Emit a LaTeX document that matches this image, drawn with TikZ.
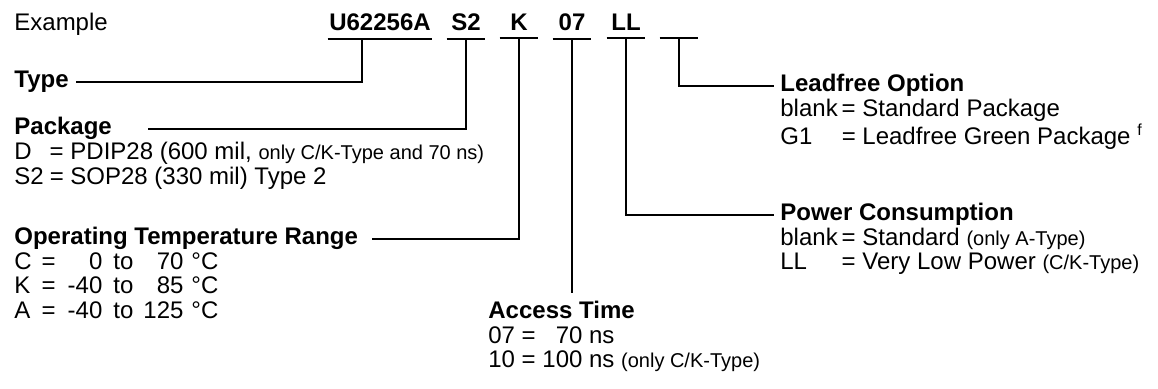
\documentclass[tikz,border=0pt]{standalone}
\usepackage{fontspec}
\setmainfont{Liberation Sans}
\usetikzlibrary{positioning}
\tikzstyle{code} = [font=\fontsize{12}{12.25}\selectfont\bfseries, inner xsep=0pt, inner ysep=3.75pt, minimum width=19pt, anchor=base]
\tikzstyle{head} = [font=\fontsize{12}{12.25}\selectfont\bfseries, inner sep=0pt, anchor=base west]
\tikzstyle{body} = [font=\fontsize{12}{12.25}\selectfont, inner sep=0pt, anchor=base west]
\tikzstyle{line} = [draw, line width=1pt]
\newcommand{\sm}[1]{{\fontsize{10}{10}\selectfont #1}}

\begin{document}
\begin{tikzpicture}[x=0.5pt, y=-0.5pt]
			\useasboundingbox (0,0) rectangle (1158,388);

			\node [body] (ex) at (14,30.5) {Example};
			\node [code, minimum width=52pt] (pn) at (380,30.5) {U62256A};
			\node [code] (s2) at (466,30.5) {S2};
			\node [code] (k) at (519,30.5) {K};
			\node [code] (t07) at (572,30.5) {07};
			\node [code] (ll) at (626,30.5) {LL};
			\node [code] (lf) at (679,30.5) {};

			\node [head] (type) at (14,87) {Type};

			\node [head] (pkg) at (14,134) {Package};
			\node [body] (pkgtab) at (14,159.5) {\begin{tabular}[t]{@{}l@{\hspace{3pt}}l@{}}
				D & = PDIP28 (600 mil, \sm{only C/K-Type and 70 ns)}\\
				S2 & = SOP28 (330 mil) Type 2
			\end{tabular}};

			\node [head] (op) at (14,244) {Operating Temperature Range};
			\node [body] (optab) at (14,269) {\begin{tabular}[t]{@{}l@{\hspace{5pt}=\hspace{6pt}}r@{\hspace{5.5pt}to\hspace{5pt}}r@{\hspace{4pt}}l@{}}
				C & 0 & 70 & °C\\
				K & -40 & 85 & °C\\
				A & -40 & 125 & °C
			\end{tabular}};

			\node [head] (acc) at (488,318.5) {Access Time};
			\node [body] (acctab) at (488,343) {\begin{tabular}[t]{@{}l@{\ =\ }r@{\ }l@{}}
				07 & 70 & ns\\
				10 & 100 & ns \sm{(only C/K-Type)}
			\end{tabular}};

			\node [head] (lead) at (780,91) {Leadfree Option};
			\node [body] (leadtab) at (780,116.5) {\begin{tabular}[t]{@{}l@{\hspace{2pt}}l@{}}
				blank & = Standard Package\\
				G1 & = Leadfree Green Package \textsuperscript{f}
			\end{tabular}};

			\node [head] (pow) at (780,220) {Power Consumption};
			\node [body] (powtab) at (780,245) {\begin{tabular}[t]{@{}l@{\hspace{2pt}}l@{}}
				blank & = Standard \sm{(only A-Type)}\\
				LL & = Very Low Power \sm{(C/K-Type)}
			\end{tabular}};

			\path [line] (pn.south west) -- (pn.south east);
			\path [line] (s2.south west) -- (s2.south east);
			\path [line] (k.south west) -- (k.south east);
			\path [line] (t07.south west) -- (t07.south east);
			\path [line] (ll.south west) -- (ll.south east);
			\path [line] (lf.south west) -- (lf.south east);
			\path [line] ([xshift=-9pt]pn.south) |- ([xshift=3.5pt]type.mid east);
			\path [line] (s2.south) |- ([xshift=17.8pt]pkg.mid east);
			\path [line] (k.south) |- ([xshift=6.8pt]op.mid east);
			\path [line] (t07.south) -- ([yshift=4pt]t07.south |- acc.north);
			\path [line] (ll.south) |- ([xshift=-3pt]pow.mid west);
			\path [line] (lf.south) |- ([xshift=-3pt]lead.mid west);
		\end{tikzpicture}
\end{document}
